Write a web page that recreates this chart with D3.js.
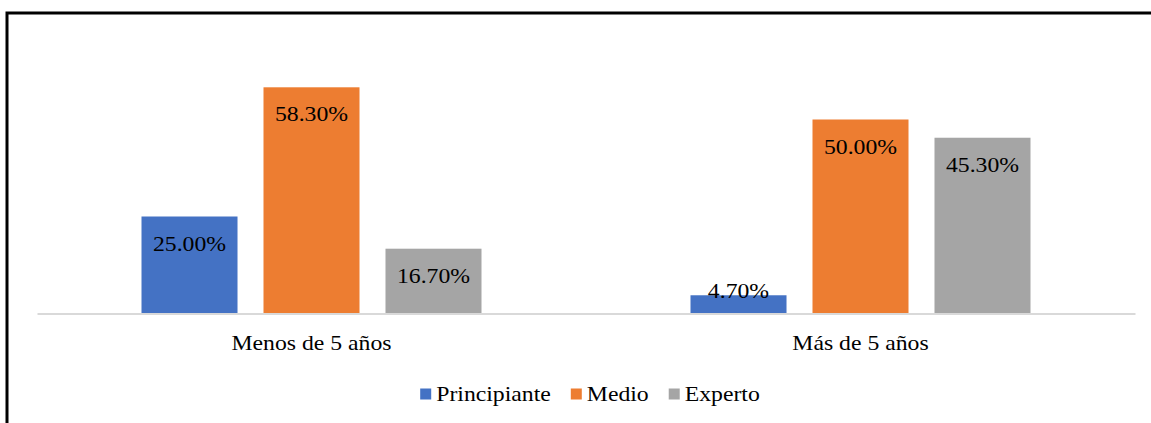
<!DOCTYPE html>
<html>
<head>
<meta charset="utf-8">
<script src="https://cdn.jsdelivr.net/npm/d3@7"></script>
<style>
  body { margin: 0; background: #fff; }
</style>
</head>
<body>
<div id="chart"></div>
<script>
// data
var categories = ['Menos de 5 años', 'Más de 5 años'];
var series = ['Principiante', 'Medio', 'Experto'];
var principiante = [25.0, 4.7];
var medio = [58.3, 50.0];
var experto = [16.7, 45.3];
var colors = ['#4472C4', '#ED7D31', '#A5A5A5'];

var svgWidth = 1151;
var svgHeight = 423;
var serif = '"Liberation Serif"';
var stretch = 1.13; // the picture's text is a bit wide

var svg = d3.select('#chart')
    .append('svg')
    .attr('width', svgWidth)
    .attr('height', svgHeight);

// frame (runs off the right and bottom edge)
svg.append('rect')
    .attr('x', 7).attr('y', 13)
    .attr('width', 1300).attr('height', 600)
    .attr('fill', 'none')
    .attr('stroke', '#000')
    .attr('stroke-width', 3);

var plot = { left: 37, right: 1135, top: 41.9, bottom: 313.5 };

var x0 = d3.scaleBand()
    .domain(categories)
    .range([plot.left, plot.right])
    .padding(0);

var x1 = d3.scaleBand()
    .domain(series)
    .range([104.5, 444.5])
    .paddingInner(0.213)
    .paddingOuter(0);

var y = d3.scaleLinear()
    .domain([0, 70])
    .range([plot.bottom, plot.top]);

var values = [principiante, medio, experto];
var rows = [];
categories.forEach(function(c, i) {
    series.forEach(function(s, j) {
        rows.push({ cat: c, ser: s, value: values[j][i], color: colors[j] });
    });
});

var groups = svg.append('g');

groups.selectAll('rect')
    .data(rows)
    .enter()
    .append('rect')
    .attr('x', d => x0(d.cat) + x1(d.ser))
    .attr('y', d => y(d.value))
    .attr('width', x1.bandwidth())
    .attr('height', d => y(0) - y(d.value))
    .attr('fill', d => d.color);

// value labels, inside end
groups.selectAll('text.val')
    .data(rows)
    .enter()
    .append('text')
    .attr('class', 'val')
    .attr('text-anchor', 'middle')
    .style('font-family', serif)
    .style('font-size', '21px')
    .attr('fill', '#000')
    .attr('transform', function(d) {
        var cx = x0(d.cat) + x1(d.ser) + x1.bandwidth() / 2;
        var cy = Math.min(y(d.value) + 34, y(0) - 15.5);
        return `translate(${cx}, ${cy}) scale(${stretch}, 1)`;
    })
    .text(d => d.value.toFixed(2) + '%');

// category axis
var axis = svg.append('g')
    .attr('transform', `translate(0, ${plot.bottom})`)
    .call(d3.axisBottom(x0).tickSize(0).tickSizeOuter(0));

axis.select('.domain')
    .attr('stroke', '#D9D9D9')
    .attr('stroke-width', 2);

axis.selectAll('.tick text')
    .attr('y', 0)
    .attr('dy', null)
    .style('font-family', serif)
    .style('font-size', '21px')
    .attr('fill', '#000')
    .attr('transform', `translate(0, 36.5) scale(${stretch}, 1)`);

// legend
var legend = svg.append('g');
var items = legend.selectAll('g')
    .data(series)
    .enter()
    .append('g');

items.append('rect')
    .attr('width', 11)
    .attr('height', 11)
    .attr('y', -12.5)
    .attr('fill', (d, i) => colors[i]);

items.append('text')
    .style('font-family', serif)
    .style('font-size', '21px')
    .attr('fill', '#000')
    .attr('transform', `translate(16, 0) scale(${stretch}, 1)`)
    .text(d => d);

var pos = 0;
items.each(function() {
    var w = 16 + d3.select(this).select('text').node().getComputedTextLength() * stretch;
    d3.select(this).attr('data-x', pos);
    pos += w + 20;
});
var total = pos - 20;
var start = 590 - total / 2;
items.attr('transform', function() {
    return `translate(${start + (+this.getAttribute('data-x'))}, 401)`;
});
</script>
</body>
</html>
